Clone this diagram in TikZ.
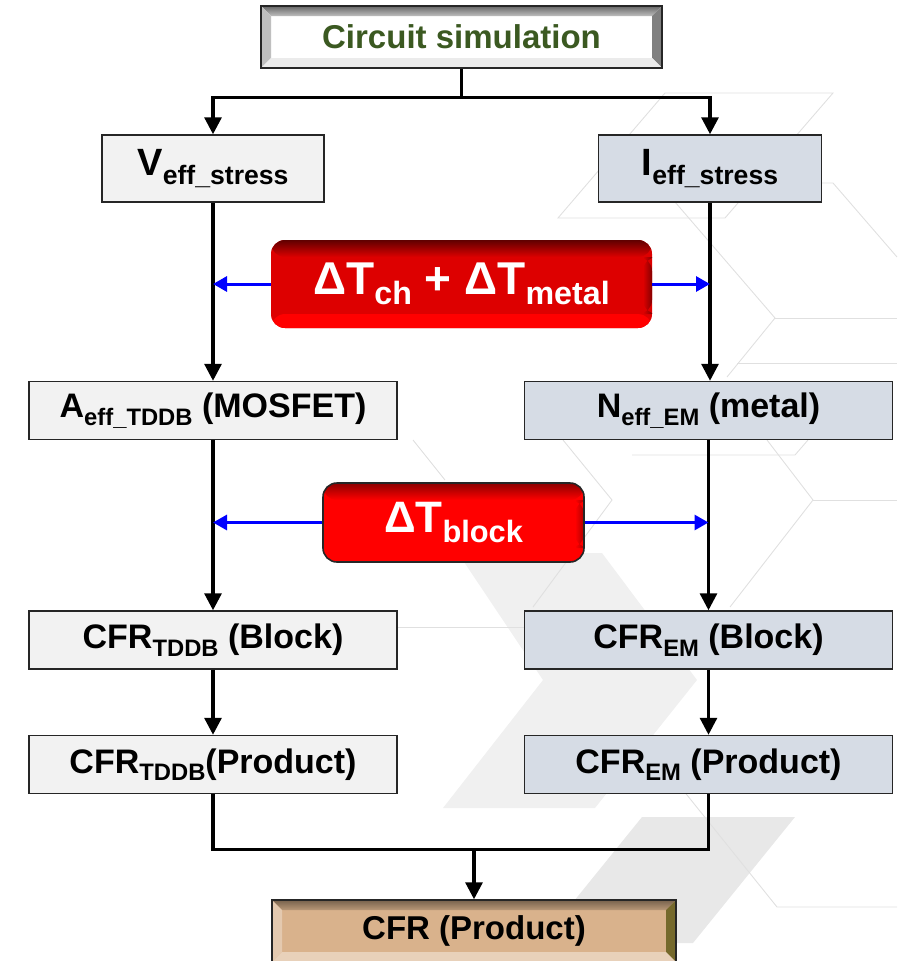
\documentclass[tikz,border=0pt]{standalone}
\usepackage{fontspec}
\setmainfont{Liberation Sans}
\usepackage{tikz}
\usetikzlibrary{positioning}
\usetikzlibrary{arrows.meta}
\definecolor{simgreen}{RGB}{59,89,33}
\definecolor{leftgray}{RGB}{242,242,242}
\definecolor{rightblue}{RGB}{214,220,229}
\definecolor{tan}{RGB}{217,178,140}
\definecolor{heatred}{RGB}{221,0,0}
\definecolor{heatdark}{RGB}{96,0,0}
\makeatletter
\newcommand\lowtxt[1]{\raisebox{-0.22em}{\fontsize{\the\dimexpr\f@size pt*7/10\relax}{10pt}\selectfont#1}}
\makeatother
\tikzset{node distance=2cm, % Default gap between two boxes.
box/.style={ % Sets the properties for each plain box
draw=black!85,
line width=1.5pt,
inner sep=0pt,
minimum width=368pt,
minimum height=58pt,
font=\fontsize{34}{40}\selectfont\bfseries},
leftbox/.style={box, fill=leftgray},
rightbox/.style={box, fill=rightblue},
bevel/.style n args={4}{path picture={ % Raised frame: top, left, right, bottom
\path (path picture bounding box.north west) coordinate (pa)
(path picture bounding box.north east) coordinate (pb)
(path picture bounding box.south east) coordinate (pc)
(path picture bounding box.south west) coordinate (pd);
\path[#1] (pa) -- (pb) -- ([shift={(-10pt,-10pt)}]pb) -- ([shift={(10pt,-10pt)}]pa) -- cycle;
\path[#2] (pa) -- ([shift={(10pt,-10pt)}]pa) -- ([shift={(10pt,10pt)}]pd) -- (pd) -- cycle;
\path[#3] (pb) -- (pc) -- ([shift={(-10pt,10pt)}]pc) -- ([shift={(-10pt,-10pt)}]pb) -- cycle;
\path[#4] (pd) -- (pc) -- ([shift={(-10pt,10pt)}]pc) -- ([shift={(10pt,10pt)}]pd) -- cycle;}},
heat/.style n args={3}{ % Red rounded boxes: top shade, body, lower band
rounded corners=14pt,
inner sep=0pt,
fill=#2,
text=white,
font=\fontsize{46}{50}\selectfont\bfseries,
path picture={
\fill[red] ([yshift=14pt]path picture bounding box.south west) rectangle (path picture bounding box.south east);
\shade[top color=#1, bottom color=#2] (path picture bounding box.north west) rectangle ([yshift=-17pt]path picture bounding box.north east);
\shade[left color=#2, right color=#1!70!#2] ([xshift=-9pt,yshift=-17pt]path picture bounding box.north east) rectangle ([yshift=14pt]path picture bounding box.south east);}},
link/.style={draw, line width=3.2pt}, % Plain connector
flow/.style={link, -{Triangle[length=17pt,width=17pt]}}, % Connector with head
feed/.style={draw=blue, line width=3pt, -{Triangle[length=14pt,width=15pt]}},
bgline/.style={draw=black!12, line width=0.9pt},
bgfill/.style={fill=black!6, draw=none}}

\begin{document}
\begin{tikzpicture}[x=1pt,y=1pt]
				\useasboundingbox (0,0) rectangle (897,-961);

				\fill[bgfill] (458,-553) -- (602,-553) -- (697,-680) -- (595,-808) -- (443,-808) -- (543,-680) -- cycle;
				\fill[bgfill, fill=black!9] (642,-817) -- (795,-817) -- (693,-943) -- (540,-943) -- cycle;
				\draw[bgline] (665,-93) -- (833,-93) -- (725,-218) -- (558,-218) -- cycle;
				\draw[bgline] (675,-202) -- (775,-318) -- (727,-377);
				\draw[bgline] (775,-318) -- (897,-318);
				\draw[bgline] (820,-183) -- (833,-183) -- (897,-257);
				\draw[bgline] (737,-363) -- (897,-363);
				\draw[bgline] (413,-440) -- (445,-480);
				\draw[bgline] (563,-440) -- (612,-500) -- (533,-607);
				\draw[bgline] (632,-455) -- (795,-455) -- (808,-440);
				\draw[bgline] (767,-440) -- (813,-500) -- (730,-607);
				\draw[bgline] (813,-500) -- (897,-500);
				\draw[bgline] (330,-627) -- (530,-627);
				\draw[bgline] (683,-790) -- (777,-907) -- (897,-907);

				\node[box, minimum width=401pt, minimum height=62pt, fill=white, text=simgreen, font=\fontsize{33}{40}\selectfont\bfseries,
					bevel={top color=black!60, bottom color=black!25}{fill=black!25}{fill=black!50}{fill=black!8}] (sim) at (461.5,-37) {Circuit simulation};
				\node[leftbox, minimum width=222pt, minimum height=67pt, font=\fontsize{38}{44}\selectfont\bfseries] (veff) at (213,-168.5) {V\lowtxt{eff\_stress}};
				\node[rightbox, minimum width=223pt, minimum height=67pt, font=\fontsize{38}{44}\selectfont\bfseries, right=273pt of veff] (ieff) {I\lowtxt{eff\_stress}};
				\node[heat={heatdark}{heatred}{red}, minimum width=381pt, minimum height=88pt] (dtboth) at (461.5,-284) {ΔT\lowtxt{ch} + ΔT\lowtxt{metal}};

				\node[leftbox, below=178pt of veff] (aeff) {A\lowtxt{eff\_TDDB} (MOSFET)};
				\node[rightbox, right=126pt of aeff] (neff) {N\lowtxt{eff\_EM} (metal)};
				\node[heat={red!55!black}{red}{red}, draw=black!85, line width=1.6pt, minimum width=261pt, minimum height=79pt,
					font=\fontsize{44}{50}\selectfont\bfseries] (dtblock) at (453.5,-522.5) {ΔT\lowtxt{block}};

				\node[leftbox, below=170pt of aeff] (cfrtb) {CFR\lowtxt{TDDB} (Block)};
				\node[rightbox, right=126pt of cfrtb] (cfreb) {CFR\lowtxt{EM} (Block)};
				\node[leftbox, below=65pt of cfrtb] (cfrtp) {CFR\lowtxt{TDDB}(Product)};
				\node[rightbox, right=126pt of cfrtp] (cfrep) {CFR\lowtxt{EM} (Product)};
				\node[box, minimum width=404pt, minimum height=62pt, fill=tan, font=\fontsize{33}{40}\selectfont\bfseries,
					bevel={top color=tan!55!black, bottom color=tan!85!black}{fill=tan!70!white}{fill=tan!45!olive!70!black}{fill=tan!60!white}] (cfr) at (474,-931) {CFR (Product)};

				\draw[link] (sim.south) -- ++(0,-29) coordinate (fork);
				\draw[flow] (fork) -| (veff.north);
				\draw[flow] (fork) -| (ieff.north);

				\draw[flow] (veff.south) -- (aeff.north);
				\draw[flow] (ieff.south) -- (ieff.south |- neff.north);
				\draw[feed] (dtboth.west) -- (dtboth.west -| veff.south);
				\draw[feed] (dtboth.east) -- (dtboth.east -| ieff.south);

				\draw[flow] (aeff.south) -- (cfrtb.north);
				\draw[flow] (neff.south) -- (cfreb.north);
				\draw[feed] (dtblock.west) -- (dtblock.west -| aeff.south);
				\draw[feed] (dtblock.east) -- (dtblock.east -| neff.south);

				\draw[flow] (cfrtb.south) -- (cfrtp.north);
				\draw[flow] (cfreb.south) -- (cfrep.north);

				\draw[link] (cfrtp.south) -- ++(0,-55) coordinate (join) -| (cfrep.south);
				\draw[flow] (join -| cfr.north) -- (cfr.north);
			\end{tikzpicture}
\end{document}
